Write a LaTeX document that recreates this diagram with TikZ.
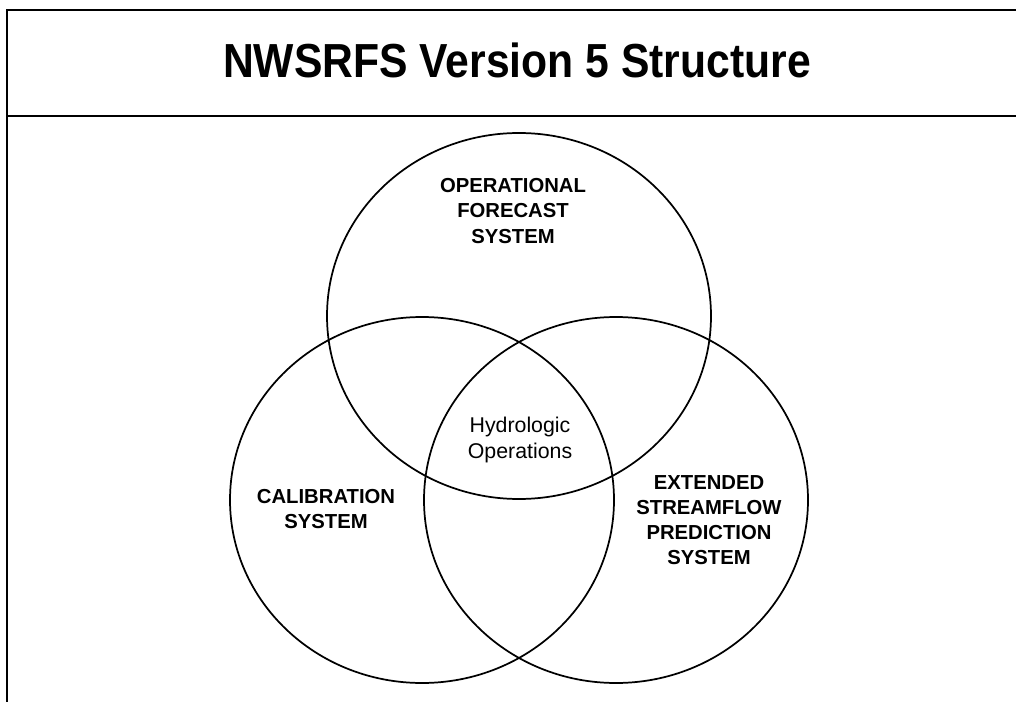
\documentclass[tikz,border=0pt]{standalone}
\usepackage{fontspec}
\setmainfont{Liberation Sans}
\usetikzlibrary{shapes.geometric}

\tikzset{
	kreis/.style={line width=1.3pt},
	rahmen/.style={line width=1.6pt},
	systemtext/.style={align=center, font=\fontsize{15.2}{18.8}\selectfont\bfseries},
}

\begin{document}
\begin{tikzpicture}[x=0.75pt, y=-0.75pt]
		\useasboundingbox (0,0) rectangle (1016,702);
		\draw[rahmen] (1016,10) -- (7,10) -- (7,702);
		\draw[rahmen] (7,116) -- (1016,116);
		\node[anchor=base, font=\fontsize{32}{40}\selectfont\bfseries] (titel) at (517,78) {\scalebox{1}[1.12]{NWSRFS Version 5 Structure}};
		
		\draw[kreis] (519,316) ellipse (192 and 183);
		\draw[kreis] (422,500) ellipse (192 and 183);
		\draw[kreis] (616,500) ellipse (192 and 183);
		
		\node[systemtext] (ofs) at (513,211) {OPERATIONAL\\FORECAST\\SYSTEM};
		\node[systemtext] (cal) at (326,509) {CALIBRATION\\SYSTEM};
		\node[systemtext] (esp) at (709,520) {EXTENDED\\STREAMFLOW\\PREDICTION\\SYSTEM};
		\node[align=center, font=\fontsize{16}{18.8}\selectfont] (hydro) at (520,440) {Hydrologic\\Operations};
	\end{tikzpicture}
\end{document}
